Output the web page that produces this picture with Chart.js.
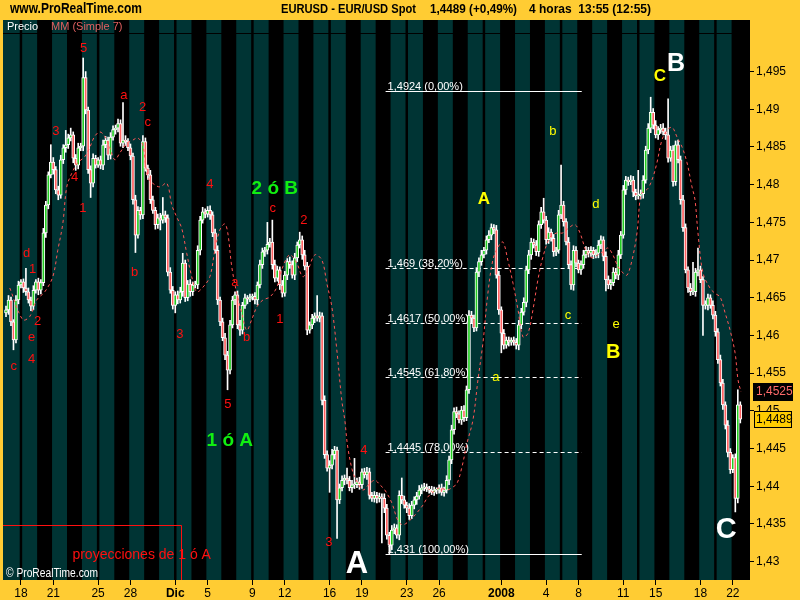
<!DOCTYPE html>
<html>
<head>
<meta charset="utf-8">
<script src="https://cdn.jsdelivr.net/npm/chart.js@4.4.0/dist/chart.umd.min.js"></script>
<style>
  html, body { margin: 0; padding: 0; background: #ffcc33; }
  #wrap { width: 800px; height: 600px; }
</style>
</head>
<body>
<div id="wrap"><canvas id="myChart" width="800" height="600"></canvas></div>

<script>
// 4h EUR/USD closes, one per bar (Fri 16 Nov 2007 .. Tue 22 Jan 2008)
const closes = [
  1.4634,1.4647,1.4618,1.4594,1.4647,1.4667,1.4671,1.4663,1.4658,1.4647,
  1.4639,1.4660,1.4671,1.4660,1.4670,1.4736,1.4773,1.4813,1.4830,1.4820,
  1.4793,1.4786,1.4833,1.4849,1.4853,1.4862,1.4866,1.4835,1.4826,1.4849,
  1.4851,1.4942,1.4899,1.4820,1.4802,1.4835,1.4826,1.4833,1.4826,1.4853,
  1.4859,1.4839,1.4863,1.4873,1.4875,1.4881,1.4855,1.4859,1.4857,1.4849,
  1.4838,1.4780,1.4733,1.4766,1.4760,1.4857,1.4822,1.4813,1.4780,1.4766,
  1.4747,1.4756,1.4753,1.4760,1.4756,1.4684,1.4660,1.4640,1.4654,1.4647,
  1.4658,1.4696,1.4650,1.4668,1.4658,1.4667,1.4667,1.4713,1.4753,1.4764,
  1.4761,1.4766,1.4760,1.4736,1.4713,1.4647,1.4618,1.4597,1.4574,1.4554,
  1.4614,1.4647,1.4654,1.4614,1.4607,1.4640,1.4650,1.4648,1.4651,1.4652,
  1.4647,1.4667,1.4694,1.4711,1.4713,1.4721,1.4724,1.4694,1.4676,1.4687,
  1.4667,1.4656,1.4680,1.4698,1.4694,1.4680,1.4703,1.4720,1.4727,1.4707,
  1.4692,1.4607,1.4614,1.4623,1.4626,1.4623,1.4626,1.4514,1.4442,1.4424,
  1.4428,1.4442,1.4448,1.4382,1.4398,1.4408,1.4411,1.4408,1.4398,1.4402,
  1.4402,1.4406,1.4402,1.4419,1.4415,1.4419,1.4388,1.4384,1.4388,1.4384,
  1.4386,1.4384,1.4371,1.4335,1.4322,1.4342,1.4345,1.4335,1.4388,1.4382,
  1.4375,1.4371,1.4361,1.4375,1.4382,1.4387,1.4395,1.4398,1.4399,1.4396,
  1.4395,1.4392,1.4395,1.4395,1.4398,1.4392,1.4395,1.4408,1.4435,1.4475,
  1.4499,1.4496,1.4488,1.4501,1.4491,1.4528,1.4627,1.4623,1.4610,1.4684,
  1.4698,1.4707,1.4713,1.4727,1.4733,1.4743,1.4740,1.4680,1.4634,1.4603,
  1.4587,1.4594,1.4591,1.4594,1.4591,1.4587,1.4614,1.4631,1.4644,1.4687,
  1.4707,1.4724,1.4720,1.4711,1.4747,1.4764,1.4753,1.4727,1.4737,1.4729,
  1.4711,1.4713,1.4760,1.4773,1.4751,1.4724,1.4694,1.4667,1.4713,1.4696,
  1.4687,1.4694,1.4707,1.4713,1.4709,1.4713,1.4707,1.4709,1.4720,1.4727,
  1.4705,1.4674,1.4667,1.4670,1.4684,1.4680,1.4707,1.4733,1.4793,1.4806,
  1.4804,1.4806,1.4790,1.4785,1.4786,1.4788,1.4806,1.4846,1.4875,1.4896,
  1.4879,1.4866,1.4873,1.4875,1.4870,1.4866,1.4835,1.4846,1.4804,1.4853,
  1.4833,1.4780,1.4743,1.4687,1.4663,1.4658,1.4658,1.4684,1.4687,1.4674,
  1.4640,1.4640,1.4650,1.4640,1.4627,1.4605,1.4568,1.4537,1.4508,1.4481,
  1.4445,1.4422,1.4438,1.4384,1.4508,1.4489
];
const firstOpen = 1.4630;

// wick length above / below the body, in pips
const upWick = [
  5,6,4,3,6,5,3,4,26,5,  4,6,3,5,4,6,5,4,23,6,  4,5,6,4,19,5,9,4,5,6,
  4,26,8,4,5,6,4,3,5,6,  5,4,6,5,4,6,5,50,6,4,  5,4,6,5,4,8,5,4,6,5,
  4,5,6,23,5,4,6,5,4,5,  6,13,4,5,6,4,5,6,5,6,  4,5,6,4,5,6,4,5,6,5,
  6,5,4,5,6,4,5,3,4,3,  5,4,6,5,4,29,5,29,6,5,  4,6,5,4,6,5,6,4,10,5,
  6,5,4,5,4,27,5,4,6,5,  6,7,5,4,5,6,4,13,5,6,  35,5,6,4,5,6,5,4,5,4,
  5,4,6,5,4,6,5,4,6,23,  5,4,6,5,4,5,6,4,5,4,  4,5,4,3,4,5,4,6,5,6,
  5,6,4,5,6,5,6,5,4,6,  5,6,4,5,6,5,4,6,5,4,  5,4,4,3,4,5,6,5,6,5,
  6,5,4,6,5,6,18,5,6,4,  5,4,6,53,5,4,6,5,6,5,  4,5,6,5,4,5,4,5,6,5,
  4,6,5,4,6,5,6,5,6,5,  4,6,5,4,33,5,6,5,6,20,  5,6,4,5,6,5,48,5,6,5,
  6,5,6,5,4,6,39,5,29,5,  4,6,5,4,6,5,4,6,5,4,  6,5,4,5,20,4
];
const lowWick = [
  5,6,5,13,4,5,4,6,5,4,  6,5,4,6,5,4,6,5,4,6,  5,6,4,5,6,5,4,6,7,5,
  4,6,5,5,19,5,4,3,5,6,  4,6,5,4,6,5,4,6,5,4,  5,6,23,4,6,5,4,6,5,4,
  6,5,13,4,6,5,4,5,10,5,  4,6,5,4,6,5,4,5,6,4,  5,4,6,5,4,6,5,4,6,26,
  5,4,6,5,7,5,4,6,3,4,  5,6,4,5,6,5,4,6,5,4,  6,5,4,6,5,4,6,5,4,6,
  5,6,4,5,6,4,5,6,5,4,  32,5,6,51,5,4,6,5,4,6,  5,4,6,5,4,6,5,4,5,6,
  5,59,6,5,12,6,5,4,6,5,  4,6,5,4,5,6,4,5,4,3,  4,3,4,5,4,4,5,4,6,5,
  6,5,4,6,5,4,5,6,5,4,  6,5,4,5,4,6,5,4,6,26,  5,4,5,4,4,5,6,5,4,6,
  5,6,4,5,6,5,4,6,5,4,  6,5,4,5,6,4,5,6,7,5,  4,6,5,4,5,4,5,4,6,5,
  6,15,5,6,4,5,6,5,4,6,  5,4,6,5,4,5,6,4,5,6,  5,4,6,5,4,6,5,4,6,5,
  4,6,5,4,6,5,4,6,5,4,  40,5,6,4,5,6,5,4,6,5,  6,5,4,18,6,5
];

// first bar of every session (Sunday sessions hold one bar)
const dayStarts = [0,6,7,13,19,25,31,37,38,44,50,56,62,68,69,75,81,87,93,99,100,106,112,118,124,
  130,131,137,143,149,155,161,162,168,174,180,186,192,193,199,205,211,217,223,224,230,236,242,
  248,254,255,261,267,273,279,285,286,292];

const tickIdx    = [6,19,37,50,68,81,99,112,130,143,161,174,199,217,230,248,261,279,292];
const tickLabels = ['18','21','25','28','Dic','5','9','12','16','19','23','26','2008','4','8','11','15','18','22'];
const boldTicks  = ['Dic','2008'];

const yTickValues = [1.43,1.435,1.44,1.445,1.45,1.455,1.46,1.465,1.47,1.475,1.48,1.485,1.49,1.495];

// MM (Simple 7) as plotted, read at bar positions
const maIdx = [1.5,6.7,9.5,12.3,15.6,18.8,20.8,22.8,24.4,26.4,28.8,31.6,33.6,35.6,37.7,39.7,41.7,43.7,45.7,48.5,
  50.9,52.9,54.9,56.9,58.9,61.8,64.6,66.6,68.6,70.6,72.6,74.6,76.6,79.1,81.9,83.9,85.9,87.9,89.1,90.7,
  92.7,94.7,96.7,98.7,100.8,103.2,106,108.8,111.2,114,116.8,119.2,121.3,124.1,126.9,128.9,130.9,132.9,134.9,136.1,
  137.3,139.4,141.4,143.4,146.2,148.2,150.2,152.2,155,157.4,159.4,162.3,165.1,167.5,169.5,171.5,174.3,177.1,179.1,181.2,
  183.2,185.2,187.6,189.6,191.6,193.6,195.6,197.6,199.6,201.6,203.7,205.7,207.7,209.7,211.7,213.7,215.7,218.5,221.3,223.7,
  226.6,228.6,230.6,233.4,235.4,237.8,239.8,241.8,243.8,245.9,247.9,249.5,251.5,253.5,254.7,255.5,257.9,259.9,261.5,263.5,
  265.5,267.6,269.6,271.6,273.6,275.6,276.8,278,280,282.8,284.8,286.9,288.9,290.9,292.9,294.1,295.3];
const maVal = [1.4663,1.4621,1.4625,1.4647,1.4658,1.4678,1.4713,1.4748,1.4797,1.4815,1.4829,1.4837,1.4849,1.4864,1.4870,1.4864,1.4849,1.4833,1.4842,1.4855,
  1.4859,1.4862,1.4853,1.4810,1.4802,1.4797,1.4802,1.4773,1.4757,1.4742,1.4709,1.4678,1.4658,1.4664,1.4678,1.4713,1.4740,1.4748,1.4736,1.4691,
  1.4656,1.4630,1.4607,1.4621,1.4638,1.4647,1.4651,1.4664,1.4691,1.4707,1.4696,1.4678,1.4687,1.4707,1.4700,1.4669,1.4638,1.4581,1.4514,1.4488,
  1.4452,1.4418,1.4404,1.4395,1.4404,1.4408,1.4402,1.4395,1.4378,1.4355,1.4349,1.4355,1.4365,1.4375,1.4386,1.4392,1.4398,1.4395,1.4398,1.4404,
  1.4426,1.4457,1.4488,1.4541,1.4590,1.4656,1.4700,1.4717,1.4724,1.4700,1.4669,1.4634,1.4598,1.4603,1.4634,1.4674,1.4704,1.4730,1.4736,1.4736,
  1.4744,1.4747,1.4736,1.4709,1.4703,1.4707,1.4711,1.4716,1.4707,1.4691,1.4683,1.4680,1.4700,1.4736,1.4780,1.4789,1.4795,1.4810,1.4829,1.4859,
  1.4872,1.4876,1.4863,1.4850,1.4829,1.4797,1.4780,1.4736,1.4683,1.4663,1.4656,1.4651,1.4630,1.4607,1.4577,1.4541,1.4525];

// fibonacci retracement of the A leg
const fibLevels = [1.4924, 1.469, 1.4617, 1.4545, 1.4445, 1.431];
const fibLabels = ['1,4924 (0,00%)','1,469 (38,20%)','1,4617 (50,00%)','1,4545 (61,80%)','1,4445 (78,00%)','1,431 (100,00%)'];
const fibDashed = [false, true, true, true, true, false];
const fibFrom = 152.5, fibTo = 231.3;

// wave counts: [text, bar, price, style]
const notes = [
  ['c',3.1,1.4559,'r'],['4',10.3,1.4568,'r'],['e',10.3,1.4597,'r'],['2',12.7,1.4619,'r'],['1',10.7,1.4688,'r'],['d',8.3,1.4709,'r'],
  ['3',20.0,1.4871,'r'],['4',27.6,1.4810,'r'],['1',30.9,1.4768,'r'],['5',31.2,1.4981,'r'],['a',47.3,1.4919,'r'],['2',54.9,1.4903,'r'],
  ['c',56.9,1.4883,'r'],['b',51.7,1.4683,'r'],['3',69.8,1.4601,'r'],['4',81.9,1.4800,'r'],['a',91.9,1.4671,'r'],['b',96.7,1.4598,'r'],
  ['5',89.1,1.4509,'r'],['c',107.2,1.4769,'r'],['2',119.7,1.4753,'r'],['1',110.0,1.4621,'r'],['4',143.8,1.4447,'r'],['3',129.7,1.4325,'r'],
  ['2 ó B',108.0,1.4795,'g'],['1 ó A',89.9,1.4461,'g'],
  ['A',192.0,1.4781,'yb'],['b',219.7,1.4870,'y'],['d',237.0,1.4774,'y'],['c',225.8,1.4627,'y'],['e',245.1,1.4615,'y'],
  ['B',243.9,1.4577,'yB'],['a',196.8,1.4544,'y'],['C',262.7,1.4944,'yb'],
  ['A',141.0,1.4296,'wA'],['B',269.2,1.4960,'wB'],['C',289.3,1.4342,'wC'],
  ['proyecciones de 1 ó A',54.5,1.4309,'rp']
];
const projBoxBar = 70.2, projBoxPrice = 1.4348;

const FONT = '"Liberation Sans", Arial, sans-serif';
const TEAL = '#003434';
const noteStyle = {
  r:  ['#ff1010', '13px ' + FONT],
  rp: ['#ff1010', '14px ' + FONT],
  g:  ['#11ee11', 'bold 19px ' + FONT],
  y:  ['#ffff00', '13px ' + FONT],
  yb: ['#ffff00', 'bold 17px ' + FONT],
  yB: ['#ffff00', 'bold 20px ' + FONT],
  wA: ['#ffffff', 'bold 31px ' + FONT],
  wB: ['#ffffff', 'bold 25px ' + FONT],
  wC: ['#ffffff', 'bold 29px ' + FONT]
};

const opens = closes.map((c, i) => i === 0 ? firstOpen : closes[i - 1]);
const highs = closes.map((c, i) => Math.max(opens[i], c) + upWick[i] / 10000);
const lows  = closes.map((c, i) => Math.min(opens[i], c) - lowWick[i] / 10000);

function fmt(v) {
  return parseFloat(v.toFixed(4)).toString().replace('.', ',');
}

function fitText(ctx, text, x, y, w) {
  const m = ctx.measureText(text).width;
  ctx.save();
  ctx.translate(x, y);
  ctx.scale(w / m, 1);
  ctx.fillText(text, 0, 0);
  ctx.restore();
}

const deco = {
  id: 'deco',
  beforeDraw(chart) {
    const {ctx, chartArea: a} = chart;
    ctx.save();
    ctx.fillStyle = '#ffcc33';
    ctx.fillRect(0, 0, chart.width, chart.height);
    ctx.fillStyle = '#000';
    ctx.fillRect(a.left, a.top, a.right - a.left, a.bottom - a.top);
    ctx.restore();
  },
  beforeDatasetsDraw(chart) {
    const {ctx, chartArea: a, scales: {x, y}} = chart;
    ctx.save();
    // session bands
    ctx.fillStyle = TEAL;
    dayStarts.forEach((s, k) => {
      if (k % 2) return;
      const x0 = k === 0 ? a.left : x.getPixelForValue(s);
      const e = k + 1 < dayStarts.length ? dayStarts[k + 1] : x.max;
      const x1 = Math.min(a.right, x.getPixelForValue(e));
      ctx.fillRect(x0, a.top, x1 - x0, a.bottom - a.top);
    });
    ctx.fillStyle = '#000';
    ctx.fillRect(a.left, a.top + 13, a.right - a.left, 1);

    // legend row
    ctx.font = '11px ' + FONT;
    ctx.textBaseline = 'middle';
    ctx.fillStyle = '#ffffff';
    ctx.fillText('Precio', a.left + 4, a.top + 7);
    ctx.fillStyle = '#e06060';
    ctx.fillText('MM (Simple 7)', a.left + 48, a.top + 7);

    // fibonacci lines
    const fx0 = x.getPixelForValue(fibFrom + 0.5), fx1 = x.getPixelForValue(fibTo + 0.5);
    ctx.strokeStyle = '#ffffff';
    ctx.lineWidth = 1;
    ctx.font = '11px ' + FONT;
    ctx.textBaseline = 'alphabetic';
    ctx.fillStyle = '#ffffff';
    fibLevels.forEach((lv, k) => {
      const py = Math.round(y.getPixelForValue(lv)) + 0.5;
      ctx.setLineDash(fibDashed[k] ? [4, 3] : []);
      ctx.beginPath();
      ctx.moveTo(fx0, py);
      ctx.lineTo(fx1, py);
      ctx.stroke();
      ctx.fillText(fibLabels[k], fx0 + 2, py - 2);
    });
    ctx.setLineDash([]);

    // projection box
    const bx = Math.round(x.getPixelForValue(projBoxBar + 0.5)) + 0.5;
    const by = Math.round(y.getPixelForValue(projBoxPrice)) + 0.5;
    ctx.strokeStyle = '#ff1010';
    ctx.beginPath();
    ctx.moveTo(a.left, by);
    ctx.lineTo(bx, by);
    ctx.lineTo(bx, a.bottom);
    ctx.stroke();
    ctx.restore();
  },
  afterDatasetsDraw(chart) {
    const {ctx, chartArea: a, scales: {x, y}} = chart;
    ctx.save();
    ctx.textAlign = 'center';
    ctx.textBaseline = 'middle';
    notes.forEach(([t, i, p, s]) => {
      ctx.fillStyle = noteStyle[s][0];
      ctx.font = noteStyle[s][1];
      ctx.fillText(t, x.getPixelForValue(i + 0.5), y.getPixelForValue(p));
    });
    ctx.textAlign = 'left';
    ctx.fillStyle = '#ffffff';
    ctx.font = '12px ' + FONT;
    fitText(ctx, '© ProRealTime.com', a.left + 3, a.bottom - 6, 92);
    ctx.restore();
  },
  afterDraw(chart) {
    const {ctx, chartArea: a, scales: {y}} = chart;
    ctx.save();
    // header
    ctx.fillStyle = '#000';
    ctx.textBaseline = 'middle';
    ctx.font = 'bold 14px "Liberation Sans Narrow", ' + FONT;
    fitText(ctx, 'www.ProRealTime.com', 10, 9, 132);
    ctx.font = 'bold 13px "Liberation Sans Narrow", ' + FONT;
    fitText(ctx, 'EURUSD - EUR/USD Spot', 281, 9, 135);
    fitText(ctx, '1,4489 (+0,49%)', 430, 9, 87);
    fitText(ctx, '4 horas  13:55 (12:55)', 529, 9, 122);

    // last MA / last price boxes
    const lastMa = maVal[maVal.length - 1];
    const lastC = closes[closes.length - 1];
    const ym = Math.round(y.getPixelForValue(lastMa));
    const yc = Math.round(y.getPixelForValue(lastC));
    ctx.font = '12px ' + FONT;
    ctx.fillStyle = '#000';
    ctx.fillRect(a.right + 3, ym - 9, 40, 18);
    ctx.fillStyle = '#ff6a6a';
    ctx.fillText(fmt(lastMa), a.right + 6, ym);
    ctx.fillStyle = '#ffcc00';
    ctx.fillRect(a.right + 4, yc - 8, 38, 17);
    ctx.strokeStyle = '#000';
    ctx.lineWidth = 1;
    ctx.strokeRect(a.right + 4.5, yc - 7.5, 37, 16);
    ctx.fillStyle = '#000';
    ctx.fillText(fmt(lastC), a.right + 6, yc + 1);
    ctx.restore();
  }
};

const ctx = document.getElementById('myChart').getContext('2d');
const chart = new Chart(ctx, {
  type: 'bar',
  data: {
    datasets: [
      {
        type: 'line',
        label: 'MM (Simple 7)',
        data: maIdx.map((b, k) => ({x: b + 0.5, y: maVal[k]})),
        borderColor: '#ff5555',
        borderWidth: 1,
        borderDash: [3, 3],
        pointRadius: 0,
        tension: 0.35,
        order: 0
      },
      {
        label: 'body',
        data: closes.map((c, i) => ({x: i + 0.5, y: [opens[i], c]})),
        backgroundColor: closes.map((c, i) => c >= opens[i] ? '#22cc22' : '#ff6060'),
        borderColor: '#ffffff',
        borderWidth: 1,
        borderSkipped: false,
        barThickness: 3,
        minBarLength: 1,
        grouped: false,
        order: 1
      },
      {
        label: 'wick',
        data: closes.map((c, i) => ({x: i + 0.5, y: [lows[i], highs[i]]})),
        backgroundColor: '#ffffff',
        borderWidth: 0,
        barThickness: 1,
        grouped: false,
        order: 2
      }
    ]
  },
  options: {
    responsive: false,
    animation: false,
    devicePixelRatio: 1,
    layout: {padding: {left: 3, top: 20, right: 0, bottom: 0}},
    plugins: {legend: {display: false}, tooltip: {enabled: false}},
    scales: {
      x: {
        type: 'linear',
        min: -0.71,
        max: 299.4,
        offset: false,
        afterBuildTicks: s => { s.ticks = tickIdx.map(v => ({value: v + 0.5})); },
        afterFit: s => { s.height = 20; },
        border: {display: false},
        grid: {drawOnChartArea: false, offset: false, tickLength: 5, tickColor: '#000'},
        ticks: {
          autoSkip: false,
          maxRotation: 0,
          padding: 1,
          color: '#000',
          font: c => ({family: FONT, size: 12, weight: boldTicks.includes(tickLabels[c.index]) ? 'bold' : 'normal'}),
          callback: (v, i) => tickLabels[i]
        }
      },
      y: {
        type: 'linear',
        position: 'right',
        min: 1.42757,
        max: 1.50184,
        afterBuildTicks: s => { s.ticks = yTickValues.map(v => ({value: v})); },
        afterFit: s => { s.width = 50; },
        border: {display: false},
        grid: {drawOnChartArea: false, tickLength: 4, tickColor: '#000'},
        ticks: {
          padding: 2,
          color: '#000',
          font: {family: FONT, size: 12},
          callback: v => fmt(v)
        }
      }
    }
  },
  plugins: [deco]
});
</script>
</body>
</html>
